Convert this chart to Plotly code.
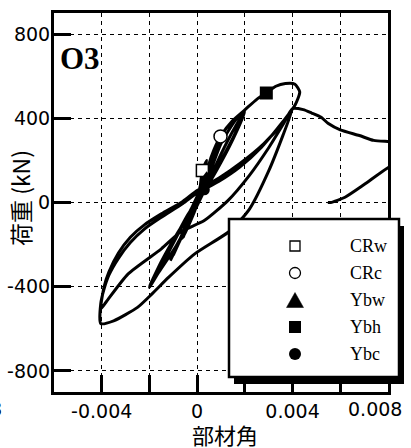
import plotly.graph_objects as go

# ---------------- data ----------------
drift = [
    0, 0.0001, 0.00022, 0.0004, 0.0002, 0.0, -0.0003, -0.0006, -0.0004, -0.0001,
    0.0002, 0.0006, 0.00098, 0.0008, 0.0004, -0.0002, -0.0007, -0.0011, -0.0008, -0.0003,
    0.0002, 0.0007, 0.001, 0.0007, 0.0002, -0.0004, -0.001, -0.0006, -0.0001,
    0.0004, 0.001, 0.0016, 0.002, 0.0016, 0.001, 0.0003, -0.0004, -0.0012, -0.0017, -0.002,
    -0.0016, -0.0009, -0.0002, 0.0004, 0.001, 0.0016, 0.002, 0.0015, 0.0008, 0.0, -0.0008, -0.0015, -0.002,
    -0.0015, -0.0008, -0.0002, 0.0003, 0.0006, 0.00098, 0.0015, 0.002, 0.0025, 0.0029, 0.0033, 0.0037,
    0.0041, 0.0043, 0.0041,
    0.0036, 0.0027, 0.0018, 0.0009, 0.0, -0.0006, -0.0015, -0.0022, -0.0028, -0.0033, -0.0037, -0.0039,
    -0.00404, -0.00404,
    -0.0035, -0.0025, -0.0019, -0.0012, -0.0001, 0.0014, 0.0022, 0.003, 0.0036, 0.004,
    0.0036, 0.0028, 0.00178, 0.0009, 0.0, -0.0006, -0.0015, -0.0022, -0.0028, -0.0033, -0.0037, -0.0039,
    -0.00404,
    -0.0038, -0.0029, -0.0015, -0.0007, 0.0003, 0.0013, 0.0022, 0.003, 0.0036, 0.004,
    0.00445, 0.0048, 0.0052, 0.0055, 0.006, 0.0068, 0.0074, 0.008, 0.0088, 0.0095,
    0.0092, 0.008, 0.007, 0.0062, 0.0056, 0.00548,
]
load = [
    0, 50, 152, 200, 110, 20, -80, -170, -120, -40,
    60, 220, 314, 260, 140, -30, -170, -270, -200, -80,
    40, 210, 300, 210, 60, -90, -250, -150, -30,
    100, 280, 390, 438, 330, 200, 60, -60, -230, -340, -403,
    -330, -210, -60, 80, 230, 360, 430, 300, 150, 0, -140, -280, -400,
    -300, -150, -20, 110, 220, 314, 390, 440, 490, 520, 552, 565,
    562, 525, 462,
    385, 263, 170, 100, 45, -5, -70, -125, -190, -265, -345, -410,
    -480, -575,
    -562, -498, -435, -356, -244, -133, -30, 150, 320, 446,
    380, 280, 184, 115, 57, 5, -54, -105, -165, -240, -330, -400,
    -505,
    -470, -340, -220, -140, -86, 10, 130, 260, 370, 446,
    441, 425, 405, 375, 345, 318, 295, 290, 285, 280,
    230, 165, 85, 25, 0, 0,
]

event_names = ["CRw", "CRc", "Ybw", "Ybh", "Ybc"]
event_drift = [0.00022, 0.00098, 0.0004, 0.0029, 0.0003]
event_load = [152, 314, 120, 520, 60]

x_tickvals = [-0.004, -0.002, 0, 0.002, 0.004, 0.006, 0.008]
x_ticktext = ["-0.004", "", "0", "", "0.004", "", ""]
x_edge_label = "0.008"
y_tickvals = [-800, -400, 0, 400, 800]
y_ticktext = ["-800", "-400", "0", "400", "800"]

# ---------------- styles ----------------
marker_style = {
    "CRw": dict(symbol="square", color="white", size=12, line=dict(color="black", width=1.5)),
    "CRc": dict(symbol="circle", color="white", size=13, line=dict(color="black", width=1.5)),
    "Ybw": dict(symbol="triangle-up", color="black", size=12, line=dict(width=0)),
    "Ybh": dict(symbol="square", color="black", size=13, line=dict(width=0)),
    "Ybc": dict(symbol="circle", color="black", size=11, line=dict(width=0)),
}

W, H = 411, 448
L, R, T, B = 54, 388, 13, 392


def px(x):
    return (x - L) / (R - L)


def py(y):
    return (B - y) / (B - T)


fig = go.Figure()
fig.add_trace(go.Scatter(x=drift, y=load, mode="lines",
                         line=dict(color="black", width=3, shape="spline", smoothing=0.6),
                         showlegend=False, hoverinfo="skip"))
for name, xv, yv in zip(event_names, event_drift, event_load):
    fig.add_trace(go.Scatter(x=[xv], y=[yv], mode="markers", name=name,
                             marker=marker_style[name], showlegend=False))

shapes = []
shapes.append(dict(type="rect", xref="paper", yref="paper",
                   x0=px(234), x1=px(404), y0=py(226), y1=py(384),
                   fillcolor="black", line=dict(width=0), layer="above"))
shapes.append(dict(type="rect", xref="paper", yref="paper",
                   x0=px(229), x1=px(399), y0=py(219), y1=py(377),
                   fillcolor="white", line=dict(color="black", width=2.5), layer="above"))
sx = 295
rows = [246, 273, 300, 327, 354]
shapes.append(dict(type="rect", xref="paper", yref="paper",
                   x0=px(sx - 5), x1=px(sx + 5), y0=py(rows[0] - 5), y1=py(rows[0] + 5),
                   fillcolor="white", line=dict(color="black", width=1.3), layer="above"))
shapes.append(dict(type="circle", xref="paper", yref="paper",
                   x0=px(sx - 5.5), x1=px(sx + 5.5), y0=py(rows[1] - 5.5), y1=py(rows[1] + 5.5),
                   fillcolor="white", line=dict(color="black", width=1.3), layer="above"))
tri = "M {} {} L {} {} L {} {} Z".format(px(sx - 8.5), py(rows[2] + 7.5), px(sx + 8.5), py(rows[2] + 7.5),
                                          px(sx), py(rows[2] - 7.5))
shapes.append(dict(type="path", xref="paper", yref="paper", path=tri,
                   fillcolor="black", line=dict(color="black", width=0.5), layer="above"))
shapes.append(dict(type="rect", xref="paper", yref="paper",
                   x0=px(sx - 6), x1=px(sx + 6), y0=py(rows[3] - 6), y1=py(rows[3] + 6),
                   fillcolor="black", line=dict(width=0), layer="above"))
shapes.append(dict(type="circle", xref="paper", yref="paper",
                   x0=px(sx - 6), x1=px(sx + 6), y0=py(rows[4] - 6), y1=py(rows[4] + 6),
                   fillcolor="black", line=dict(width=0), layer="above"))

annotations = []
for name, ry in zip(event_names, rows):
    annotations.append(dict(text=name, xref="paper", yref="paper", x=px(348), y=py(ry),
                            xanchor="left", yanchor="middle", showarrow=False,
                            font=dict(family="Liberation Serif", size=18, color="black")))
annotations.append(dict(text="<b>O3</b>", xref="paper", yref="paper", x=px(58), y=py(58),
                        xanchor="left", yanchor="middle", showarrow=False,
                        font=dict(family="Liberation Serif, serif", size=31, color="black")))
annotations.append(dict(text="8", xref="paper", yref="paper", x=px(4), y=py(409),
                        xanchor="right", yanchor="middle", showarrow=False,
                        font=dict(family="DejaVu Sans", size=19, color="black")))
annotations.append(dict(text=x_edge_label, xref="paper", yref="paper", x=px(404), y=py(409),
                        xanchor="right", yanchor="middle", showarrow=False,
                        font=dict(family="DejaVu Sans", size=19, color="black")))
annotations.append(dict(text="部材角", xref="paper", yref="paper", x=px(225), y=py(434),
                        xanchor="center", yanchor="middle", showarrow=False,
                        font=dict(family="Noto Sans CJK JP", size=22, color="black")))
annotations.append(dict(text="荷重 (kN)", xref="paper", yref="paper", x=px(20), y=py(198),
                        xanchor="center", yanchor="middle", showarrow=False, textangle=-90,
                        font=dict(family="Noto Sans CJK JP", size=23, color="black")))

axis_common = dict(
    ticks="inside", ticklen=17, tickwidth=3, tickcolor="black",
    showline=True, linecolor="black", linewidth=3, mirror=True,
    showgrid=True, gridcolor="black", gridwidth=1, griddash="4px,4px",
    zeroline=False, automargin=False,
    tickfont=dict(family="DejaVu Sans", size=19, color="black"),
)

fig.update_layout(
    width=W, height=H,
    margin=dict(l=L, r=W - R, t=T, b=H - B),
    paper_bgcolor="white", plot_bgcolor="white",
    shapes=shapes, annotations=annotations,
    showlegend=False,
    xaxis=dict(range=[-0.006, 0.0080005], tickvals=x_tickvals, ticktext=x_ticktext, **axis_common),
    yaxis=dict(range=[-900, 900], tickvals=y_tickvals, ticktext=y_ticktext,
               ticklabelstandoff=-3, **axis_common),
)

fig.write_html("out.html", config={"displayModeBar": False},
               post_script="document.body.style.margin='0';document.body.style.padding='0';")
